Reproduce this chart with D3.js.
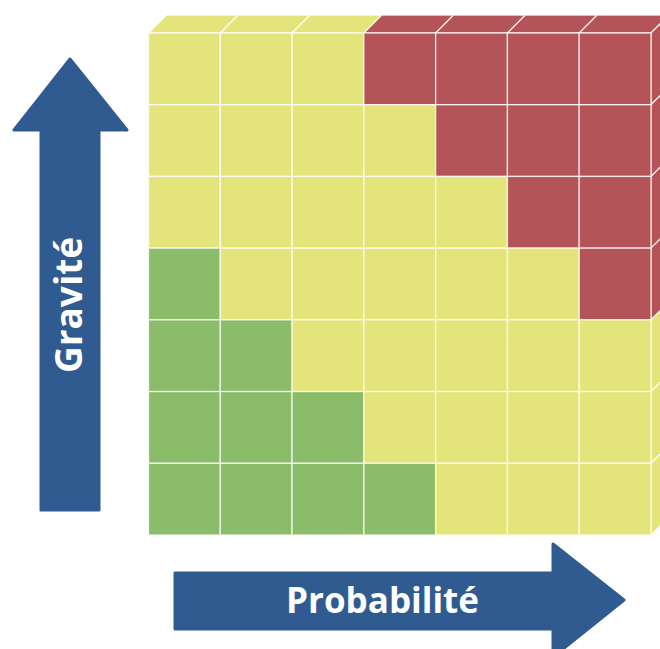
<!DOCTYPE html>
<html>
<head>
<meta charset="utf-8">
<script src="https://cdn.jsdelivr.net/npm/d3@7"></script>
<style>
  body { margin: 0; background: #fff; }
  svg { display: block; }
</style>
</head>
<body>
<svg id="chart" width="660" height="649"></svg>
<script>
// Risk matrix data
const probabilityLevels = [1, 2, 3, 4, 5, 6, 7];
const gravityLevels = [7, 6, 5, 4, 3, 2, 1]; // top to bottom
// risk level per row (gravity 7 at top) and column (probability 1..7)
const riskRows = [
  ["M", "M", "M", "H", "H", "H", "H"],
  ["M", "M", "M", "M", "H", "H", "H"],
  ["M", "M", "M", "M", "M", "H", "H"],
  ["L", "M", "M", "M", "M", "M", "H"],
  ["L", "L", "M", "M", "M", "M", "M"],
  ["L", "L", "L", "M", "M", "M", "M"],
  ["L", "L", "L", "L", "M", "M", "M"],
];
const xLabel = "Probabilité";
const yLabel = "Gravité";

const riskColors = { L: "#8bbc69", M: "#e3e57a", H: "#b45458" };
const arrowColor = "#2f5b91";

const svg = d3.select("#chart");
const depth = 18;

const x = d3.scaleBand().domain(probabilityLevels).range([148.5, 651]);
const y = d3.scaleBand().domain(gravityLevels).range([33, 535]);

const cells = [];
gravityLevels.forEach((g, i) => {
  probabilityLevels.forEach((p, j) => {
    cells.push({ g, p, risk: riskRows[i][j] });
  });
});

const line = d3.line();

// top face (3D)
svg
  .append("g")
  .selectAll("path")
  .data(probabilityLevels)
  .join("path")
  .attr("d", (p) => {
    const x0 = x(p), x1 = x(p) + x.bandwidth(), y0 = y.range()[0];
    return line([[x0, y0], [x1, y0], [x1 + depth, y0 - depth], [x0 + depth, y0 - depth]]) + "Z";
  })
  .attr("fill", (p, j) => riskColors[riskRows[0][j]])
  .attr("stroke", "#fff")
  .attr("stroke-opacity", 0.8)
  .attr("stroke-width", 1.3);

// right face (3D)
const lastP = probabilityLevels[probabilityLevels.length - 1];
svg
  .append("g")
  .selectAll("path")
  .data(gravityLevels)
  .join("path")
  .attr("d", (g) => {
    const x0 = x(lastP) + x.bandwidth(), y0 = y(g), y1 = y(g) + y.bandwidth();
    return line([[x0, y0], [x0 + depth, y0 - depth], [x0 + depth, y1 - depth], [x0, y1]]) + "Z";
  })
  .attr("fill", (g, i) => riskColors[riskRows[i][riskRows[i].length - 1]])
  .attr("stroke", "#fff")
  .attr("stroke-opacity", 0.8)
  .attr("stroke-width", 1.3);

// front cells
svg
  .append("g")
  .selectAll("rect")
  .data(cells)
  .join("rect")
  .attr("x", (d) => x(d.p))
  .attr("y", (d) => y(d.g))
  .attr("width", x.bandwidth())
  .attr("height", y.bandwidth())
  .attr("fill", (d) => riskColors[d.risk])
  .attr("stroke", "#fff")
  .attr("stroke-opacity", 0.8)
  .attr("stroke-width", 1.3);

// Gravité arrow (vertical)
const vArrow = [[41, 510], [41, 130], [14, 130], [70, 59], [127, 130], [99, 130], [99, 510]];
svg
  .append("path")
  .attr("d", line(vArrow) + "Z")
  .attr("fill", arrowColor)
  .attr("stroke", arrowColor)
  .attr("stroke-width", 3)
  .attr("stroke-linejoin", "round");

svg
  .append("text")
  .attr("transform", "translate(82,305) rotate(-90)")
  .attr("text-anchor", "middle")
  .attr("font-family", "'Open Sans', sans-serif")
  .attr("font-weight", "bold")
  .attr("font-size", 37)
  .attr("fill", "#fff")
  .text(yLabel);

// Probabilité arrow (horizontal)
const hArrow = [[175, 573], [553, 573], [553, 544], [624, 600], [553, 657], [553, 629], [175, 629]];
svg
  .append("path")
  .attr("d", line(hArrow) + "Z")
  .attr("fill", arrowColor)
  .attr("stroke", arrowColor)
  .attr("stroke-width", 3)
  .attr("stroke-linejoin", "round");

svg
  .append("text")
  .attr("x", 382.5)
  .attr("y", 613)
  .attr("text-anchor", "middle")
  .attr("font-family", "'Open Sans', sans-serif")
  .attr("font-weight", "bold")
  .attr("font-size", 35)
  .attr("fill", "#fff")
  .text(xLabel);
</script>
</body>
</html>
